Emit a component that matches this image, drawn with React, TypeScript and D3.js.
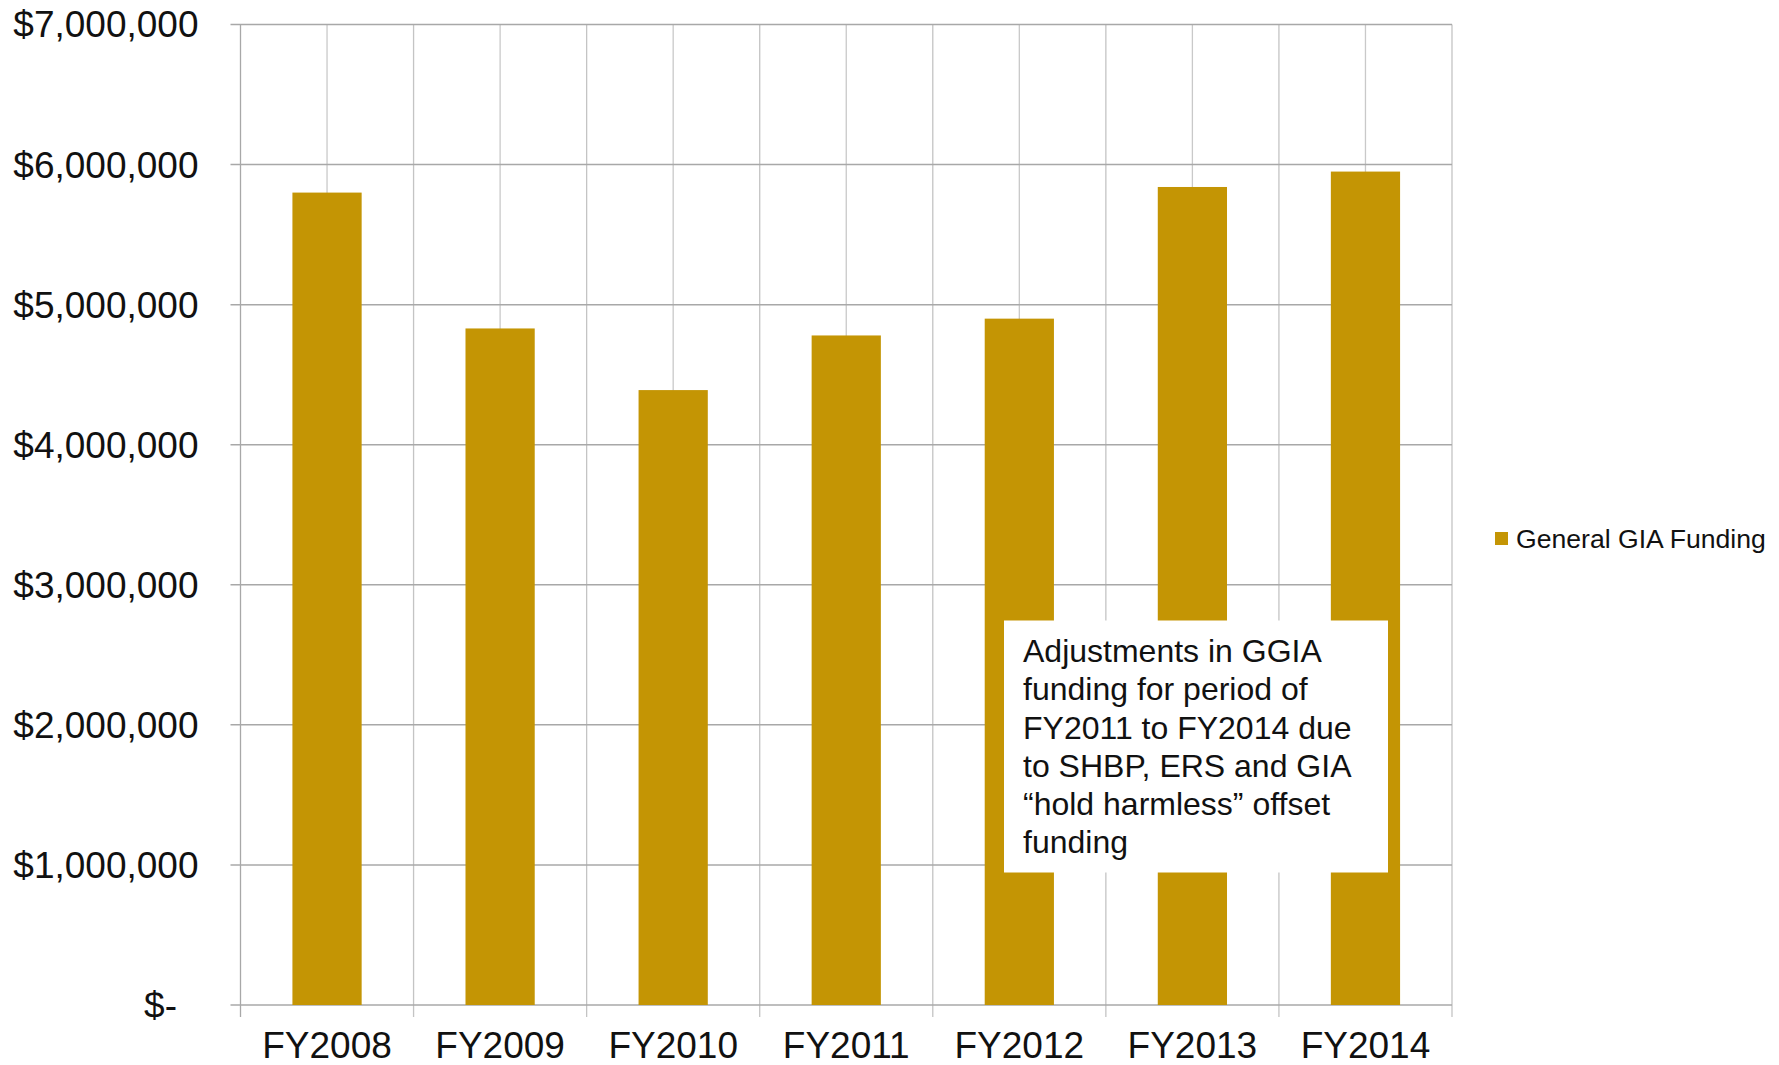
import React from 'react';
import * as d3 from 'd3';

const categories = ['FY2008', 'FY2009', 'FY2010', 'FY2011', 'FY2012', 'FY2013', 'FY2014'];
const fundingValues = [5800000, 4830000, 4390000, 4780000, 4900000, 5840000, 5950000];
const yTickValues = [0, 1000000, 2000000, 3000000, 4000000, 5000000, 6000000, 7000000];
const seriesName = 'General GIA Funding';
const noteLines = [
  'Adjustments in GGIA',
  'funding for period of',
  'FY2011 to FY2014 due',
  'to SHBP, ERS and GIA',
  '\u201Chold harmless\u201D offset',
  'funding',
];

const W = 1779;
const H = 1065;
const FONT = '"Liberation Sans", Arial, Helvetica, sans-serif';
const BAR = '#C49504';

export default function App() {
  const left = 240.5;
  const right = 1452;
  const top = 24.5;
  const bottom = 1005;

  const x = d3.scaleBand<string>().domain(categories).range([left, right]).paddingInner(0.6).paddingOuter(0.3);
  const y = d3.scaleLinear().domain([0, 7000000]).range([bottom, top]);
  const step = x.step();
  const fmt = d3.format('$,');

  const boundaries = categories.map((_, i) => left + i * step).concat([right]);
  const centers = categories.map((c) => (x(c) as number) + x.bandwidth() / 2);

  return (
    <div style={{ position: 'fixed', left: 0, top: 0 }}>
      <svg width={W} height={H} style={{ display: 'block', background: '#fff' }} fontFamily={FONT}>
        <rect x={0} y={0} width={W} height={H} fill="#fff" />
        {centers.map((cx, i) => (
          <line key={'vc' + i} x1={cx} x2={cx} y1={top} y2={bottom} stroke="#c9c9c9" strokeWidth={1.3} />
        ))}
        {boundaries.map((bx, i) => (
          <line key={'vb' + i} x1={bx} x2={bx} y1={top} y2={bottom + 12} stroke={i === 0 ? '#a8a8a8' : '#c4c4c4'} strokeWidth={1.3} />
        ))}
        {yTickValues.map((v) => (
          <line key={'h' + v} x1={left - 10} x2={right} y1={y(v)} y2={y(v)} stroke="#a8a8a8" strokeWidth={1.5} />
        ))}
        {categories.map((c, i) => (
          <rect key={c} x={x(c)} y={y(fundingValues[i])} width={x.bandwidth()} height={y(0) - y(fundingValues[i])} fill={BAR} />
        ))}
        {yTickValues.map((v) => (
          <text
            key={'yl' + v}
            x={v === 0 ? 177 : 198.5}
            y={y(v)}
            dy="0.35em"
            textAnchor="end"
            fontSize={37}
            fill="#111"
          >
            {v === 0 ? '$-' : fmt(v)}
          </text>
        ))}
        {categories.map((c, i) => (
          <text key={'xl' + c} x={centers[i]} y={1058} textAnchor="middle" fontSize={37} fill="#111">
            {c}
          </text>
        ))}
        <rect x={1004} y={620.5} width={384} height={252} fill="#fff" />
        {noteLines.map((l, i) => (
          <text key={'n' + i} x={1023} y={651 + i * 38.2} dy="0.35em" fontSize={32} fill="#111">
            {l}
          </text>
        ))}
        <rect x={1495} y={532} width={13} height={13} fill={BAR} />
        <text x={1516} y={538.5} dy="0.35em" fontSize={26.6} fill="#111">
          {seriesName}
        </text>
      </svg>
    </div>
  );
}
